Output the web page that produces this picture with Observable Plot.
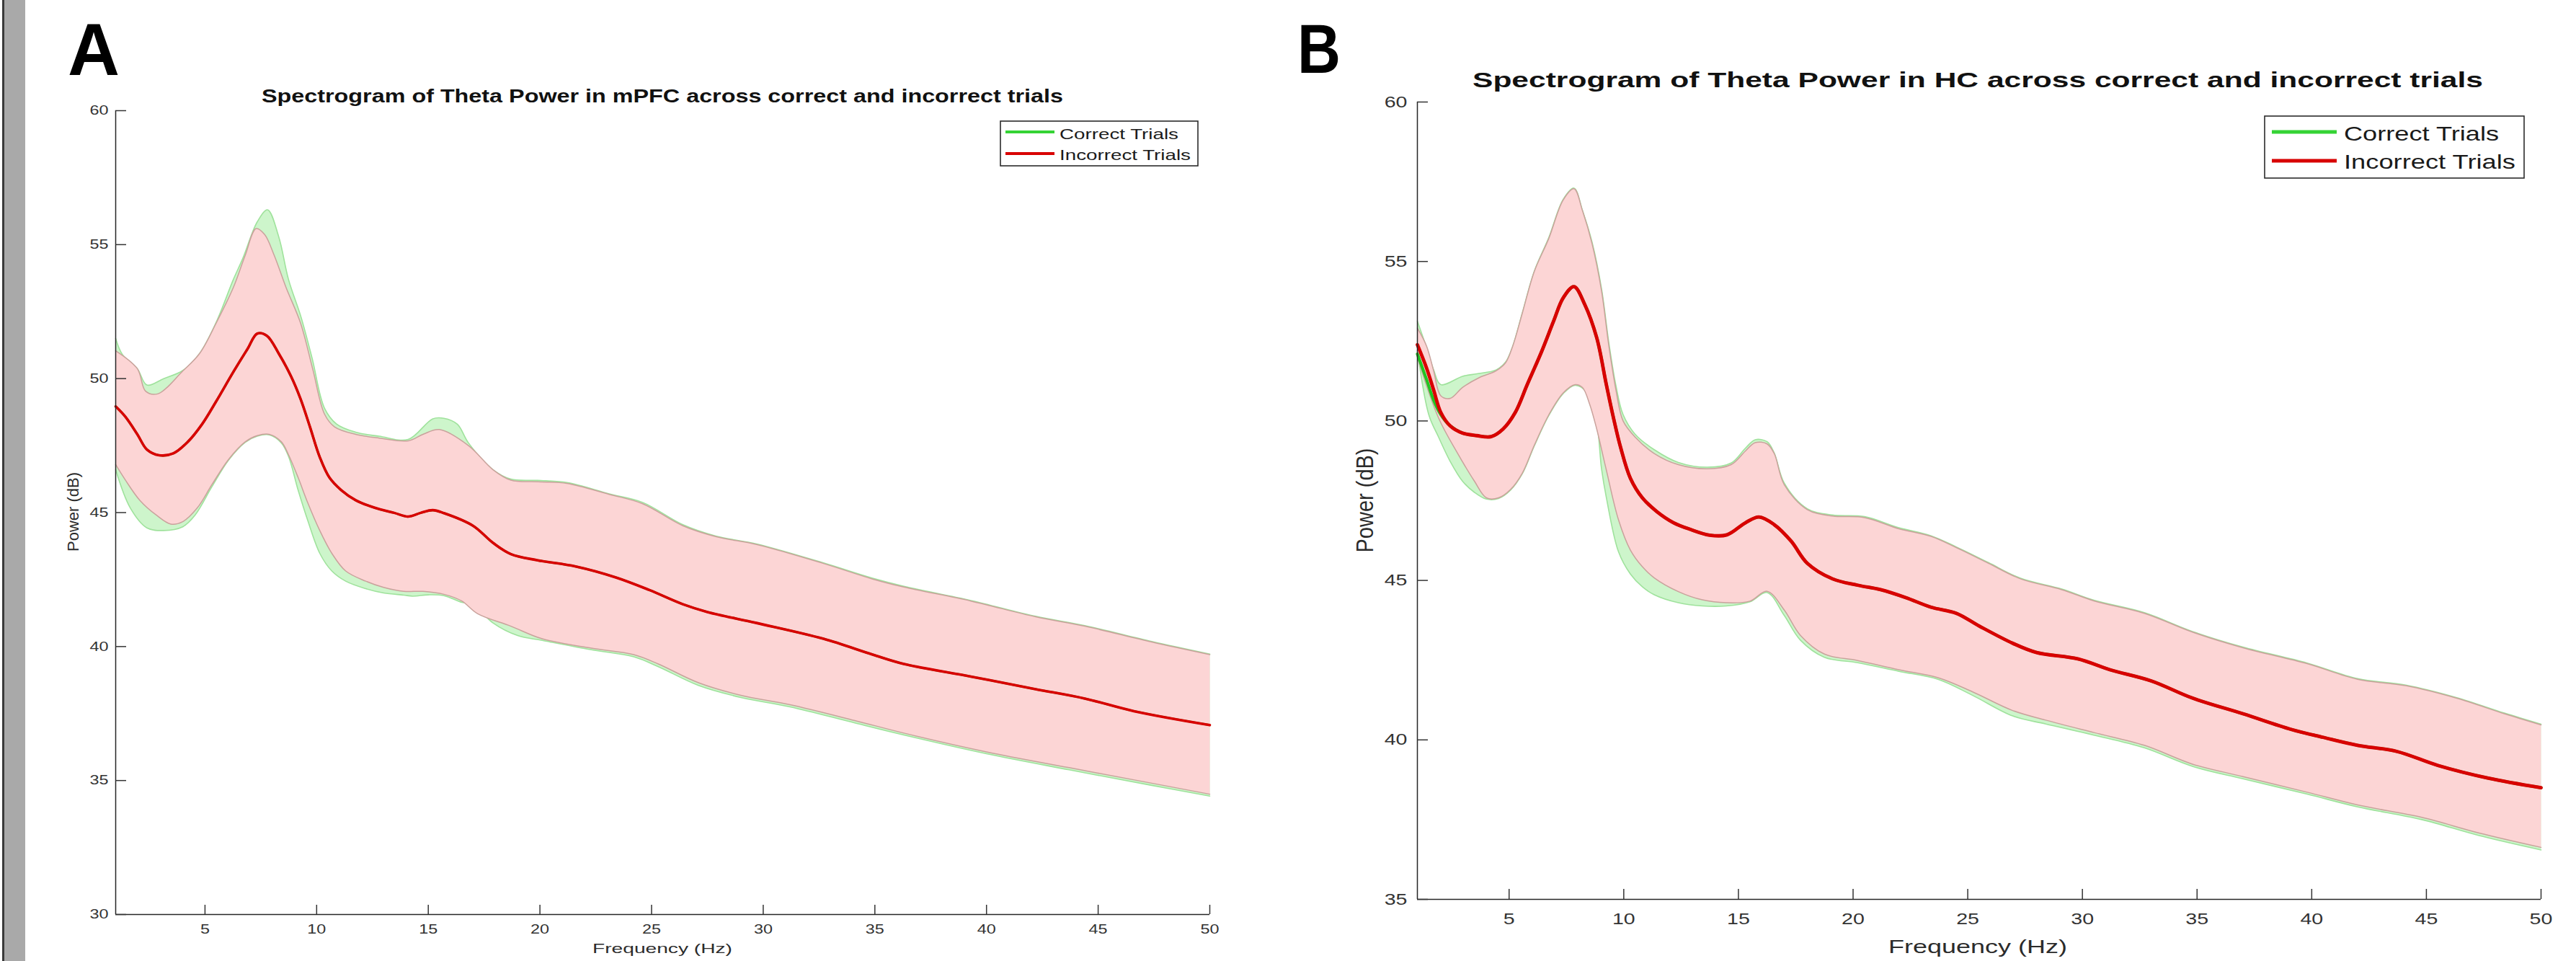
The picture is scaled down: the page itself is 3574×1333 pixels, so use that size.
<!DOCTYPE html>
<html><head><meta charset="utf-8">
<script src="https://cdn.jsdelivr.net/npm/d3@7"></script>
<script src="https://cdn.jsdelivr.net/npm/@observablehq/plot@0.6"></script>
<style>
html,body{margin:0;padding:0;background:#fff;}
#root{position:relative;width:3574px;height:1333px;overflow:hidden;background:#fff;font-family:"Liberation Sans",Arial,sans-serif;}
#root > svg{position:absolute;}
</style></head><body><div id="root"></div>
<script>
// ---------- labels & axes ----------
const panelLetters = ["A", "B"];
const panelTitles = [
  "Spectrogram of Theta Power in mPFC across correct and incorrect trials",
  "Spectrogram of Theta Power in HC across correct and incorrect trials"
];
const xAxisLabel = "Frequency (Hz)";
const yAxisLabel = "Power (dB)";
const seriesNames = ["Correct Trials", "Incorrect Trials"];
const seriesColors = ["#35d335", "#d80000"];
const frequencyLimits = [1, 50];
const frequencyTicks = [5, 10, 15, 20, 25, 30, 35, 40, 45, 50];
const powerLimitsA = [30, 60];
const powerTicksA = [30, 35, 40, 45, 50, 55, 60];
const powerLimitsB = [35, 60];
const powerTicksB = [35, 40, 45, 50, 55, 60];

// ---------- Panel A (mPFC): [Hz, dB] ----------
const A_incorrect_mean = [[1.0,48.96],[1.43,48.58],[1.97,47.92],[2.4,47.35],[2.94,47.14],[3.58,47.21],[4.23,47.64],[4.87,48.3],[5.5,49.15],[6.27,50.25],[6.9,51.1],[7.34,51.68],[7.77,51.6],[8.3,50.94],[8.85,50.09],[9.28,49.24],[9.7,48.2],[10.14,47.07],[10.57,46.31],[11.1,45.84],[11.75,45.46],[12.6,45.18],[13.47,44.99],[14.1,44.85],[14.66,44.99],[15.2,45.09],[15.7,44.98],[17.0,44.51],[17.9,43.87],[18.7,43.45],[19.9,43.22],[21.6,42.99],[23.4,42.58],[24.9,42.11],[26.4,41.58],[27.5,41.29],[29.7,40.88],[32.7,40.29],[34.9,39.7],[36.3,39.35],[39.3,38.88],[42.2,38.41],[44.4,38.06],[46.6,37.59],[50,37.07]];
const A_correct_mean = [[1.0,48.96],[1.43,48.58],[1.97,47.92],[2.4,47.35],[2.94,47.14],[3.58,47.21],[4.23,47.64],[4.87,48.3],[5.5,49.15],[6.27,50.25],[6.9,51.1],[7.34,51.68],[7.77,51.6],[8.3,50.94],[8.85,50.09],[9.28,49.24],[9.7,48.2],[10.14,47.07],[10.57,46.31],[11.1,45.84],[11.75,45.46],[12.6,45.18],[13.47,44.99],[14.1,44.85],[14.66,44.99],[15.2,45.09],[15.7,44.98],[17.0,44.51],[17.9,43.87],[18.7,43.45],[19.9,43.22],[21.6,42.99],[23.4,42.58],[24.9,42.11],[26.4,41.58],[27.5,41.29],[29.7,40.88],[32.7,40.29],[34.9,39.7],[36.3,39.35],[39.3,38.88],[42.2,38.41],[44.4,38.06],[46.6,37.59],[50,37.07]];
const A_incorrect_upper = [[1.0,51.04],[1.97,50.37],[2.34,49.53],[2.88,49.43],[4.0,50.28],[4.76,50.94],[5.5,52.07],[6.27,53.4],[6.8,54.6],[7.29,55.6],[7.67,55.38],[8.1,54.6],[8.63,53.4],[9.28,52.07],[9.82,50.37],[10.35,48.68],[10.8,48.2],[11.75,47.92],[12.8,47.78],[14.1,47.68],[14.76,47.92],[15.5,48.1],[16.8,47.5],[17.9,46.6],[18.7,46.21],[19.9,46.15],[21.2,46.09],[23.1,45.68],[24.6,45.33],[26.4,44.51],[27.9,44.1],[29.7,43.81],[32.7,43.1],[34.9,42.52],[36.3,42.22],[39.3,41.7],[42.2,41.11],[44.4,40.76],[47.4,40.17],[50,39.7]];
const A_incorrect_lower = [[1.0,46.79],[1.43,46.22],[2.08,45.46],[2.83,44.9],[3.47,44.57],[4.0,44.66],[4.66,45.18],[5.3,46.03],[6.05,46.98],[6.8,47.64],[7.34,47.87],[7.88,47.92],[8.42,47.64],[8.74,47.16],[9.17,46.31],[9.6,45.37],[10.14,44.33],[10.68,43.48],[11.3,42.82],[12.2,42.44],[13.0,42.21],[13.9,42.06],[14.76,42.06],[15.7,41.95],[16.5,41.7],[17.2,41.23],[18.7,40.76],[20.1,40.29],[22.3,39.94],[24.2,39.7],[25.3,39.35],[27.1,38.65],[29.0,38.18],[31.2,37.83],[34.1,37.24],[36.3,36.77],[40.0,36.07],[43.7,35.48],[47.4,34.9],[50,34.49]];
const A_correct_upper = [[1.0,51.5],[1.3,50.9],[1.97,50.37],[2.4,49.76],[3.15,50.0],[4.0,50.3],[4.76,50.94],[5.5,52.1],[6.27,53.7],[6.7,54.5],[7.34,55.85],[7.8,56.3],[8.3,55.3],[8.74,53.7],[9.3,52.3],[9.8,50.75],[10.35,48.9],[10.9,48.3],[11.75,48.0],[12.8,47.85],[14.1,47.73],[15.2,48.5],[15.7,48.52],[16.3,48.3],[16.8,47.6],[17.9,46.6],[18.7,46.25],[19.9,46.2],[21.2,46.12],[23.1,45.7],[24.6,45.38],[26.4,44.55],[27.9,44.12],[29.7,43.83],[32.7,43.12],[34.9,42.55],[36.3,42.25],[39.3,41.72],[42.2,41.13],[44.4,40.78],[47.4,40.19],[50,39.72]];
const A_correct_lower = [[1.0,46.6],[1.65,45.18],[2.4,44.43],[3.15,44.33],[4.0,44.47],[4.55,44.9],[5.3,45.95],[6.05,46.95],[6.8,47.62],[7.34,47.85],[7.88,47.9],[8.42,47.6],[8.74,47.1],[9.17,45.84],[9.6,44.71],[10.14,43.48],[10.68,42.82],[11.3,42.44],[12.2,42.16],[13.0,42.0],[13.9,41.92],[14.3,41.88],[15.0,41.93],[15.7,41.9],[16.5,41.65],[17.0,41.58],[17.9,40.88],[19.0,40.41],[20.1,40.23],[22.3,39.88],[24.2,39.62],[25.3,39.25],[27.1,38.55],[29.0,38.1],[31.2,37.75],[34.1,37.15],[36.3,36.7],[40.0,36.0],[43.7,35.4],[47.4,34.82],[50,34.42]];

// ---------- Panel B (HC): [Hz, dB] ----------
const B_incorrect_mean = [[1.0,52.39],[1.4,51.66],[1.71,50.97],[2.02,50.27],[2.44,49.84],[2.97,49.62],[3.59,49.54],[4.22,49.51],[4.74,49.75],[5.27,50.27],[5.79,51.14],[6.42,52.18],[6.94,53.13],[7.36,53.86],[7.83,54.21],[8.3,53.65],[8.82,52.61],[9.24,51.14],[9.55,50.1],[9.87,49.15],[10.29,48.2],[10.81,47.59],[11.44,47.16],[12.17,46.81],[12.9,46.6],[13.74,46.42],[14.5,46.43],[15.31,46.81],[15.9,46.99],[16.56,46.75],[17.3,46.23],[18.0,45.54],[19.1,45.05],[20.2,44.85],[21.2,44.71],[22.3,44.46],[23.4,44.16],[24.5,43.97],[25.5,43.57],[26.96,43.03],[28.0,42.74],[29.8,42.54],[31.2,42.2],[33.0,41.85],[34.8,41.31],[37.0,40.82],[39.1,40.33],[40.5,40.08],[42.0,39.83],[43.7,39.64],[45.5,39.2],[47.7,38.8],[50,38.5]];
const B_correct_mean = [[1.0,52.1],[1.4,51.3],[1.71,50.65],[2.02,50.2],[2.44,49.84],[2.97,49.62],[3.59,49.54],[4.22,49.51],[4.74,49.75],[5.27,50.27],[5.79,51.14],[6.42,52.18],[6.94,53.13],[7.36,53.86],[7.83,54.21],[8.3,53.65],[8.82,52.61],[9.24,51.14],[9.55,50.1],[9.87,49.15],[10.29,48.2],[10.81,47.59],[11.44,47.16],[12.17,46.81],[12.9,46.6],[13.74,46.42],[14.5,46.43],[15.31,46.81],[15.9,46.99],[16.56,46.75],[17.3,46.23],[18.0,45.54],[19.1,45.05],[20.2,44.85],[21.2,44.71],[22.3,44.46],[23.4,44.16],[24.5,43.97],[25.5,43.57],[26.96,43.03],[28.0,42.74],[29.8,42.54],[31.2,42.2],[33.0,41.85],[34.8,41.31],[37.0,40.82],[39.1,40.33],[40.5,40.08],[42.0,39.83],[43.7,39.64],[45.5,39.2],[47.7,38.8],[50,38.5]];
const B_incorrect_upper = [[1.0,52.91],[1.4,52.35],[1.71,51.57],[2.02,50.79],[2.44,50.71],[2.97,51.05],[3.7,51.36],[4.43,51.57],[4.85,51.83],[5.16,52.35],[5.58,53.39],[6.1,54.69],[6.73,55.72],[7.36,56.93],[7.83,57.28],[8.2,56.59],[8.62,55.55],[9.03,54.08],[9.35,52.35],[9.66,50.97],[9.97,50.0],[10.5,49.49],[11.33,48.98],[12.38,48.63],[13.64,48.5],[14.68,48.63],[15.31,49.06],[15.73,49.32],[16.25,49.28],[16.56,48.98],[17.0,48.0],[18.0,47.22],[19.1,47.02],[20.5,46.97],[22.0,46.62],[23.4,46.38],[24.5,46.03],[25.9,45.54],[27.3,45.05],[29.1,44.71],[30.5,44.36],[32.7,43.97],[34.8,43.38],[37.0,42.89],[39.8,42.39],[42.0,41.9],[44.1,41.7],[46.3,41.31],[48.4,40.82],[50,40.47]];
const B_incorrect_lower = [[1.0,52.0],[1.92,50.1],[2.76,48.98],[3.49,48.11],[4.01,47.59],[4.54,47.59],[5.06,47.85],[5.58,48.37],[6.1,49.24],[6.73,50.19],[7.36,50.88],[7.88,51.14],[8.2,51.05],[8.51,50.53],[8.82,49.75],[9.24,48.46],[9.77,46.9],[10.29,45.95],[10.81,45.43],[11.33,45.08],[12.38,44.65],[13.43,44.39],[14.47,44.3],[15.5,44.35],[16.25,44.66],[17.0,44.07],[17.7,43.28],[18.75,42.69],[20.2,42.49],[22.0,42.2],[23.7,41.95],[25.2,41.51],[26.96,40.92],[28.4,40.62],[30.5,40.23],[32.7,39.83],[34.8,39.24],[37.0,38.85],[39.8,38.36],[42.0,37.96],[44.8,37.57],[47.3,37.08],[50,36.63]];
const B_correct_upper = [[1.0,53.13],[1.4,52.3],[1.71,51.6],[2.02,51.14],[2.97,51.4],[3.59,51.48],[4.43,51.6],[4.85,51.85],[5.16,52.35],[5.58,53.4],[6.1,54.7],[6.73,55.75],[7.36,56.95],[7.83,57.3],[8.2,56.6],[8.62,55.6],[9.03,54.15],[9.35,52.45],[9.66,51.1],[9.97,50.2],[10.5,49.58],[11.33,49.1],[12.38,48.7],[13.64,48.55],[14.68,48.68],[15.31,49.15],[15.73,49.41],[16.25,49.35],[16.56,49.0],[17.0,48.05],[18.0,47.25],[19.1,47.05],[20.5,47.0],[22.0,46.65],[23.4,46.4],[24.5,46.05],[25.9,45.56],[27.3,45.07],[29.1,44.73],[30.5,44.38],[32.7,43.99],[34.8,43.4],[37.0,42.91],[39.8,42.41],[42.0,41.92],[44.1,41.72],[46.3,41.33],[48.4,40.84],[50,40.49]];
const B_correct_lower = [[1.0,52.2],[1.5,50.19],[1.92,49.5],[2.44,48.72],[2.97,48.11],[3.49,47.76],[4.01,47.55],[4.54,47.57],[5.06,47.83],[5.58,48.35],[6.1,49.22],[6.73,50.17],[7.36,50.86],[7.88,51.12],[8.4,50.88],[8.82,49.93],[9.03,48.5],[9.24,47.6],[9.77,45.9],[10.29,45.2],[10.81,44.8],[11.33,44.55],[12.38,44.3],[13.43,44.2],[14.47,44.2],[15.5,44.33],[16.25,44.62],[17.0,43.9],[17.7,43.13],[18.75,42.59],[20.2,42.42],[22.0,42.15],[23.7,41.9],[25.2,41.4],[26.96,40.75],[28.4,40.5],[30.5,40.15],[32.7,39.75],[34.8,39.17],[37.0,38.78],[39.8,38.3],[42.0,37.9],[44.8,37.5],[47.3,37.0],[50,36.55]];

// ---------- drawing ----------
const root = document.getElementById("root");
const FONT = "'Liberation Sans', Arial, Helvetica, sans-serif";
const STRETCH = 1.3;

function stretchTicks(svg) {
  svg.querySelectorAll('g[aria-label$="tick label"] text').forEach(t => {
    const L = t.getComputedTextLength();
    if (L > 0) {
      t.setAttribute("textLength", (L * STRETCH).toFixed(1));
      t.setAttribute("lengthAdjust", "spacingAndGlyphs");
    }
  });
}

// closed band outline: upper edge, then lower edge reversed; end points doubled
// so the smoothing curve makes a sharp vertical edge at the band ends
function band(up, lo) {
  const u = up.slice(), l = lo.slice().reverse();
  return [u[0], ...u, u[u.length - 1], l[0], ...l, l[l.length - 1]];
}

function drawPanel(c) {
  const xy = {x: d => d[0], y: d => d[1], curve: "catmull-rom"};
  const chart = Plot.plot({
    width: c.width, height: c.height,
    marginLeft: c.m[0], marginRight: c.m[1], marginTop: c.m[2], marginBottom: c.m[3],
    x: {domain: frequencyLimits},
    y: {domain: c.yDomain},
    style: {background: "transparent", color: "#333", fontFamily: FONT, overflow: "visible"},
    marks: [
      Plot.line(band(c.cUp, c.cLo), {...xy, fill: "#cdf5cb", stroke: "none"}),
      Plot.line(c.cUp, {...xy, stroke: "#9fe29c", strokeWidth: 1.6}),
      Plot.line(c.cLo, {...xy, stroke: "#9fe29c", strokeWidth: 1.6}),
      Plot.line(band(c.iUp, c.iLo), {...xy, fill: "#fcd5d5", stroke: "none"}),
      Plot.line(c.iUp, {...xy, stroke: "#c9a29c", strokeWidth: 1.5}),
      Plot.line(c.iLo, {...xy, stroke: "#c9a29c", strokeWidth: 1.5}),
      Plot.line(c.cMean, {...xy, stroke: "#22c322", strokeWidth: c.gw}),
      Plot.line(c.iMean, {...xy, stroke: seriesColors[1], strokeWidth: c.rw}),
      Plot.ruleX([frequencyLimits[0]], {stroke: "#262626", strokeWidth: 1.5}),
      Plot.ruleY([c.yDomain[0]], {stroke: "#262626", strokeWidth: 1.5}),
      Plot.axisX({ticks: frequencyTicks, anchor: "bottom", tickSize: -c.xt, tickPadding: c.xpad, fontSize: c.fs, strokeWidth: 1.5, label: null}),
      Plot.axisY({ticks: c.yTicks, anchor: "left", tickSize: -c.yt, tickPadding: c.ypad, fontSize: c.fs, strokeWidth: 1.5, label: null})
    ]
  });
  chart.style.left = c.left + "px";
  chart.style.top = "0px";
  root.appendChild(chart);
  stretchTicks(chart);
}

drawPanel({
  left: 0, width: 1790, height: 1333, m: [160, 112, 153, 65],
  yDomain: powerLimitsA, yTicks: powerTicksA,
  cMean: A_correct_mean, iMean: A_incorrect_mean,
  cUp: A_correct_upper, cLo: A_correct_lower, iUp: A_incorrect_upper, iLo: A_incorrect_lower,
  gw: 3, rw: 3.6, xt: 13, xpad: 27, yt: 15, ypad: 25, fs: 18
});
drawPanel({
  left: 1790, width: 1784, height: 1333, m: [176, 49, 141, 86],
  yDomain: powerLimitsB, yTicks: powerTicksB,
  cMean: B_correct_mean, iMean: B_incorrect_mean,
  cUp: B_correct_upper, cLo: B_correct_lower, iUp: B_incorrect_upper, iLo: B_incorrect_lower,
  gw: 4.2, rw: 4.8, xt: 14, xpad: 33, yt: 15, ypad: 29, fs: 22
});

// ---------- overlay: letters, titles, axis labels, legends ----------
const ov = d3.create("svg").attr("width", 3574).attr("height", 1333)
  .style("left", "0px").style("top", "0px").style("font-family", FONT);

// side bar
ov.append("rect").attr("x", 3).attr("y", 0).attr("width", 3).attr("height", 1333).attr("fill", "#3a3a3a");
ov.append("rect").attr("x", 6).attr("y", 0).attr("width", 29).attr("height", 1333).attr("fill", "#a9a9a9");

function txt(s, x, y, size, opts = {}) {
  const t = ov.append("text").text(s).attr("x", x).attr("y", y)
    .attr("font-size", size).attr("fill", opts.fill || "#111")
    .attr("text-anchor", opts.anchor || "start");
  if (opts.bold) t.attr("font-weight", "bold");
  if (opts.len) t.attr("textLength", opts.len).attr("lengthAdjust", "spacingAndGlyphs");
  return t;
}
function ylabel(s, cx, cy, size, len, sx) {
  ov.append("text").text(s)
    .attr("transform", `translate(${cx},${cy}) scale(${sx},1) rotate(-90)`)
    .attr("text-anchor", "middle").attr("dominant-baseline", "central")
    .attr("font-size", size).attr("fill", "#2b2b2b")
    .attr("textLength", len).attr("lengthAdjust", "spacingAndGlyphs");
}
function legend(x, y, w, h, lx1, lx2, ly, tx, tb, size, lens, lw) {
  ov.append("rect").attr("x", x).attr("y", y).attr("width", w).attr("height", h)
    .attr("fill", "#fff").attr("stroke", "#2b2b2b").attr("stroke-width", 1.6);
  seriesNames.forEach((name, i) => {
    ov.append("line").attr("x1", lx1).attr("x2", lx2).attr("y1", ly[i]).attr("y2", ly[i])
      .attr("stroke", seriesColors[i]).attr("stroke-width", lw);
    txt(name, tx, tb[i], size, {fill: "#1a1a1a", len: lens[i]});
  });
}

// Panel A
txt(panelLetters[0], 94, 104, 102, {bold: true, fill: "#000", len: 72});
txt(panelTitles[0], 919, 142, 25, {bold: true, anchor: "middle", fill: "#111", len: 1112});
txt(xAxisLabel, 919, 1322, 19, {anchor: "middle", fill: "#2b2b2b", len: 194});
ylabel(yAxisLabel, 101, 710, 20, 110, 1.1);
legend(1388, 168, 274, 62, 1395, 1463, [183, 213], 1470, [192.5, 221.5], 21, [165, 182], 4);

// Panel B
txt(panelLetters[1], 1800, 101, 97, {bold: true, fill: "#000", len: 60});
txt(panelTitles[1], 2744, 121, 30, {bold: true, anchor: "middle", fill: "#111", len: 1402});
txt(xAxisLabel, 2744, 1322, 25, {anchor: "middle", fill: "#2b2b2b", len: 248});
ylabel(yAxisLabel, 1893, 694, 27, 145, 1.25);
legend(3142, 161, 360, 86, 3152, 3242, [183, 223], 3252, [195, 234], 28, [215, 238], 5);

root.appendChild(ov.node());
</script></body></html>
